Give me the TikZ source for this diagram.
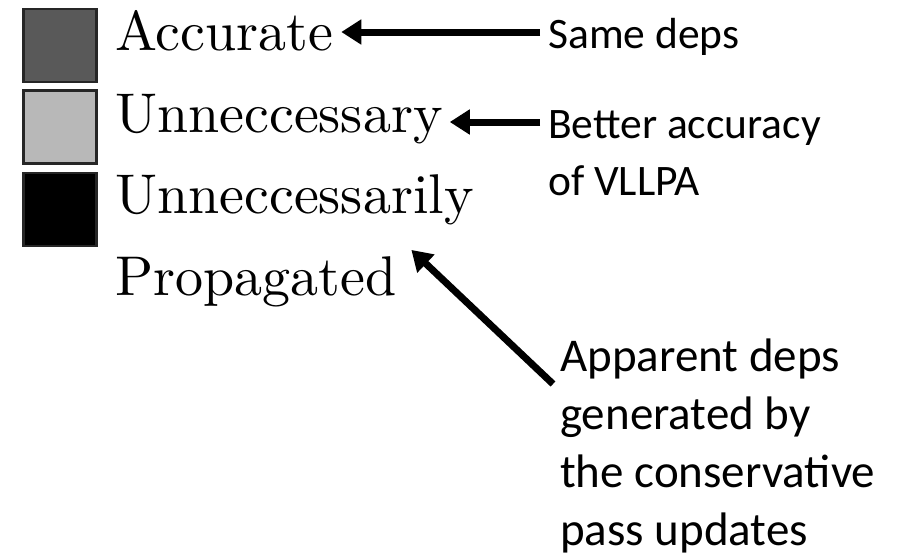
\documentclass[tikz,border=0pt]{standalone}
\usepackage{fontspec}
\newfontfamily\entryfont{lmroman10-regular.otf}
\newfontfamily\notefont{Carlito}
\usetikzlibrary{arrows.meta, calc}

\begin{document}
\begin{tikzpicture}[x=1pt, y=-1pt,
    swatch/.style={draw=black!85, line width=2.5pt, minimum size=73pt, inner sep=0pt},
    entry/.style={anchor=base west, inner sep=0pt, font=\entryfont\fontsize{56}{81}\selectfont},
    note/.style={anchor=base west, inner sep=0pt, align=left, font=\notefont\fontsize{43.5}{57}\selectfont},
    pointer/.style={line width=7pt, -{Triangle[length=20pt,width=24pt]}}]
    \useasboundingbox (0,0) rectangle (914,557);

    % legend swatches
    \node[swatch, fill=black!65] (swacc) at (60,45.5) {};
    \node[swatch, fill=black!28] (swunnec) at (60,127) {};
    \node[swatch, fill=black] (swprop) at (60,209.5) {};

    % legend entries
    \foreach \y/\n/\t in {50/accurate/Accurate, 132/unnec/Unneccessary, 213/unnecly/Unneccessarily, 295/prop/Propagated} {
        \node[entry] (\n) at (115,\y) {\t};
    }

    % notes (base = last line)
    \node[note] (same) at (548,48) {Same deps};
    \node[note] (better) at (548,195) {Better accuracy\\of VLLPA};
    \node[note, font=\notefont\fontsize{47}{58}\selectfont] (apparent) at (560,545) {Apparent deps\\generated by\\the conservative\\pass updates};

    \coordinate (sametail) at ([xshift=-8pt,yshift=16pt]same.base west);
    \coordinate (bettertail) at ([xshift=-8pt,yshift=73pt]better.base west);
    \coordinate (apparenttail) at ([xshift=-7pt,yshift=161pt]apparent.base west);

    \draw[pointer] (sametail) -- ([xshift=8pt]sametail -| accurate.east);
    \draw[pointer] (bettertail) -- ([xshift=7pt]bettertail -| unnec.east);
    \draw[pointer] (apparenttail) -- ([xshift=15pt,yshift=6pt]prop.north east);
\end{tikzpicture}
\end{document}
